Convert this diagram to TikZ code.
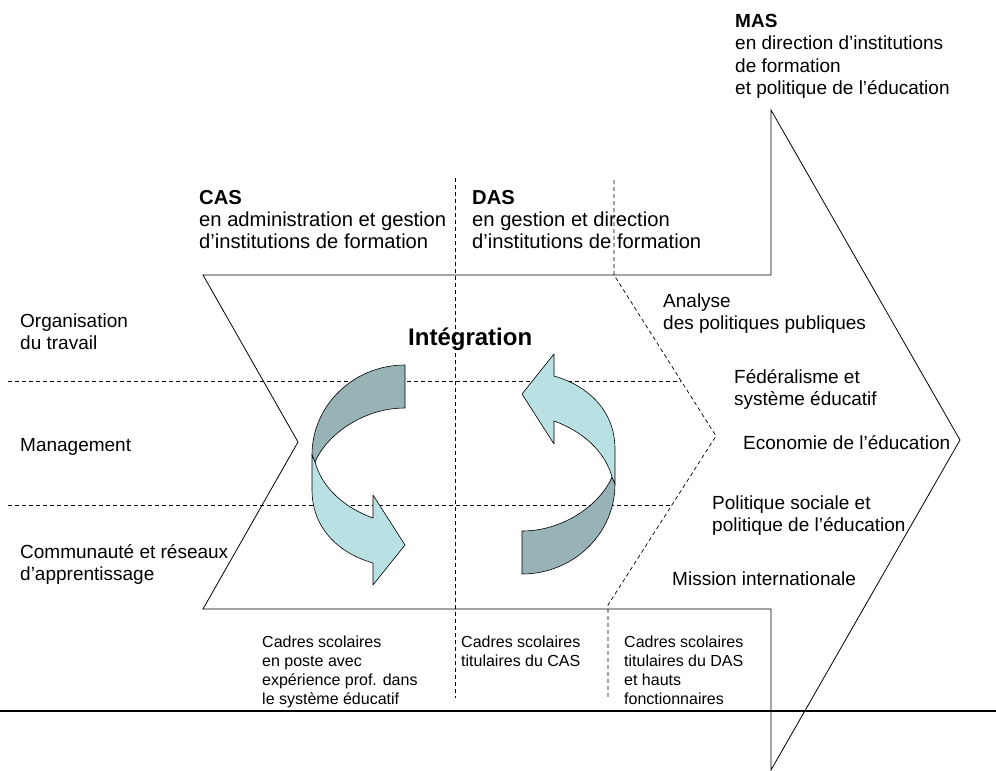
\documentclass[tikz,border=0pt]{standalone}
\usepackage{fontspec}
\setmainfont{Liberation Sans}
\definecolor{ribdark}{HTML}{97B3B6}
\definecolor{riblight}{HTML}{B9E0E3}
\newcommand{\ribbonShape}{%
  \filldraw[fill=ribdark, draw=black, line width=0.6pt, line join=round]
    (405,365) .. controls (354,365) and (312,405) .. (312,455) -- (315,462)
    .. controls (326,436) and (362,408) .. (405,408) -- cycle;
  \filldraw[fill=riblight, draw=black, line width=0.6pt, line join=round]
    (315,462) .. controls (322,488) and (345,508) .. (373,518) -- (373,495)
    -- (405,545) -- (373,585) -- (373,563)
    .. controls (335,552) and (312,525) .. (312,490) -- (312,455) -- cycle;
}
\begin{document}
\begin{tikzpicture}[x=1pt,y=-1pt,
  txt/.style={anchor=north west, inner sep=0pt, align=left, font=\fontsize{19}{22.5}\selectfont},
  txtb/.style={anchor=north west, inner sep=0pt, align=left, font=\fontsize{20.2}{22}\selectfont},
  small/.style={anchor=north west, inner sep=0pt, align=left, font=\fontsize{16}{19}\selectfont},
  dashline/.style={draw=black, line width=0.7pt, dash pattern=on 4pt off 3pt},
  outline/.style={draw=black, line width=0.8pt, line join=miter}]
\useasboundingbox (0,0) rectangle (996,771);
\fill[white] (0,0) rectangle (996,771);

% dashed grid
\coordinate (va) at (455,178);
\coordinate (vb) at (455,698);
\draw[dashline] (va) -- (vb);
\coordinate (d1) at (614,180);
\coordinate (d2) at (614,275);
\coordinate (d3) at (716,436);
\coordinate (d4) at (608,605);
\coordinate (d5) at (608,698);
\draw[dashline] (d1) -- (d2) -- (d3) -- (d4) -- (d5);
\coordinate (h1a) at (8,381);
\coordinate (h1b) at (681,381);
\coordinate (h2a) at (8,505);
\coordinate (h2b) at (671,505);
\draw[dashline] (h1a) -- (h1b);
\draw[dashline] (h2a) -- (h2b);

% main outline
\coordinate (o1) at (203,275);
\coordinate (o2) at (771,275);
\coordinate (o3) at (771,110);
\coordinate (o4) at (960,440);
\coordinate (o5) at (771,770);
\coordinate (o6) at (771,609);
\coordinate (o7) at (203,609);
\coordinate (o8) at (298,442);
\draw[outline] (o1) -- (o2) -- (o3) -- (o4) -- (o5) -- (o6) -- (o7) -- (o8) -- cycle;

% baseline rule
\coordinate (la) at (0,711);
\coordinate (lb) at (996,711);
\draw[black, line width=1.4pt] (la) -- (lb);

% circular arrows
\ribbonShape
\begin{scope}[rotate around={180:(463.5,469.5)}]
\ribbonShape
\end{scope}

% texts
\node[txtb] (cas) at (199,188.6) {\strut\textbf{CAS}\\en administration et gestion\\d’institutions de formation};
\node[txtb] (das) at (472,188.6) {\strut\textbf{DAS}\\en gestion et direction\\d’institutions de formation};
\node[txt] (mas) at (735,11.25) {\strut\textbf{MAS}\\en direction d’institutions\\de formation\\et politique de l’éducation};
\node[txt] (org) at (20,311.25) {\strut Organisation\\du travail};
\node[txt] (mgt) at (20,435.25) {\strut Management};
\node[txt] (com) at (20,542.25) {\strut Communauté et réseaux\\d’apprentissage};
\node[txt] (ana) at (663,291.25) {\strut Analyse\\des politiques publiques};
\node[txt] (fed) at (734,367.25) {\strut Fédéralisme et\\système éducatif};
\node[txt] (eco) at (743,433.25) {\strut Economie de l’éducation};
\node[txt] (pol) at (712,493.25) {\strut Politique sociale et\\politique de l’éducation};
\node[txt] (mis) at (672,569.25) {\strut Mission internationale};
\node[anchor=base west, inner sep=0pt, font=\fontsize{24}{28}\selectfont\bfseries] (int) at (408,345) {Intégration};
\node[small] (c1) at (262,633.7) {\strut Cadres scolaires\\en poste avec\\expérience prof. dans\\le système éducatif};
\node[small] (c2) at (461,633.7) {\strut Cadres scolaires\\titulaires du CAS};
\node[small] (c3) at (624,633.7) {\strut Cadres scolaires\\titulaires du DAS\\et hauts\\fonctionnaires};
\end{tikzpicture}
\end{document}
